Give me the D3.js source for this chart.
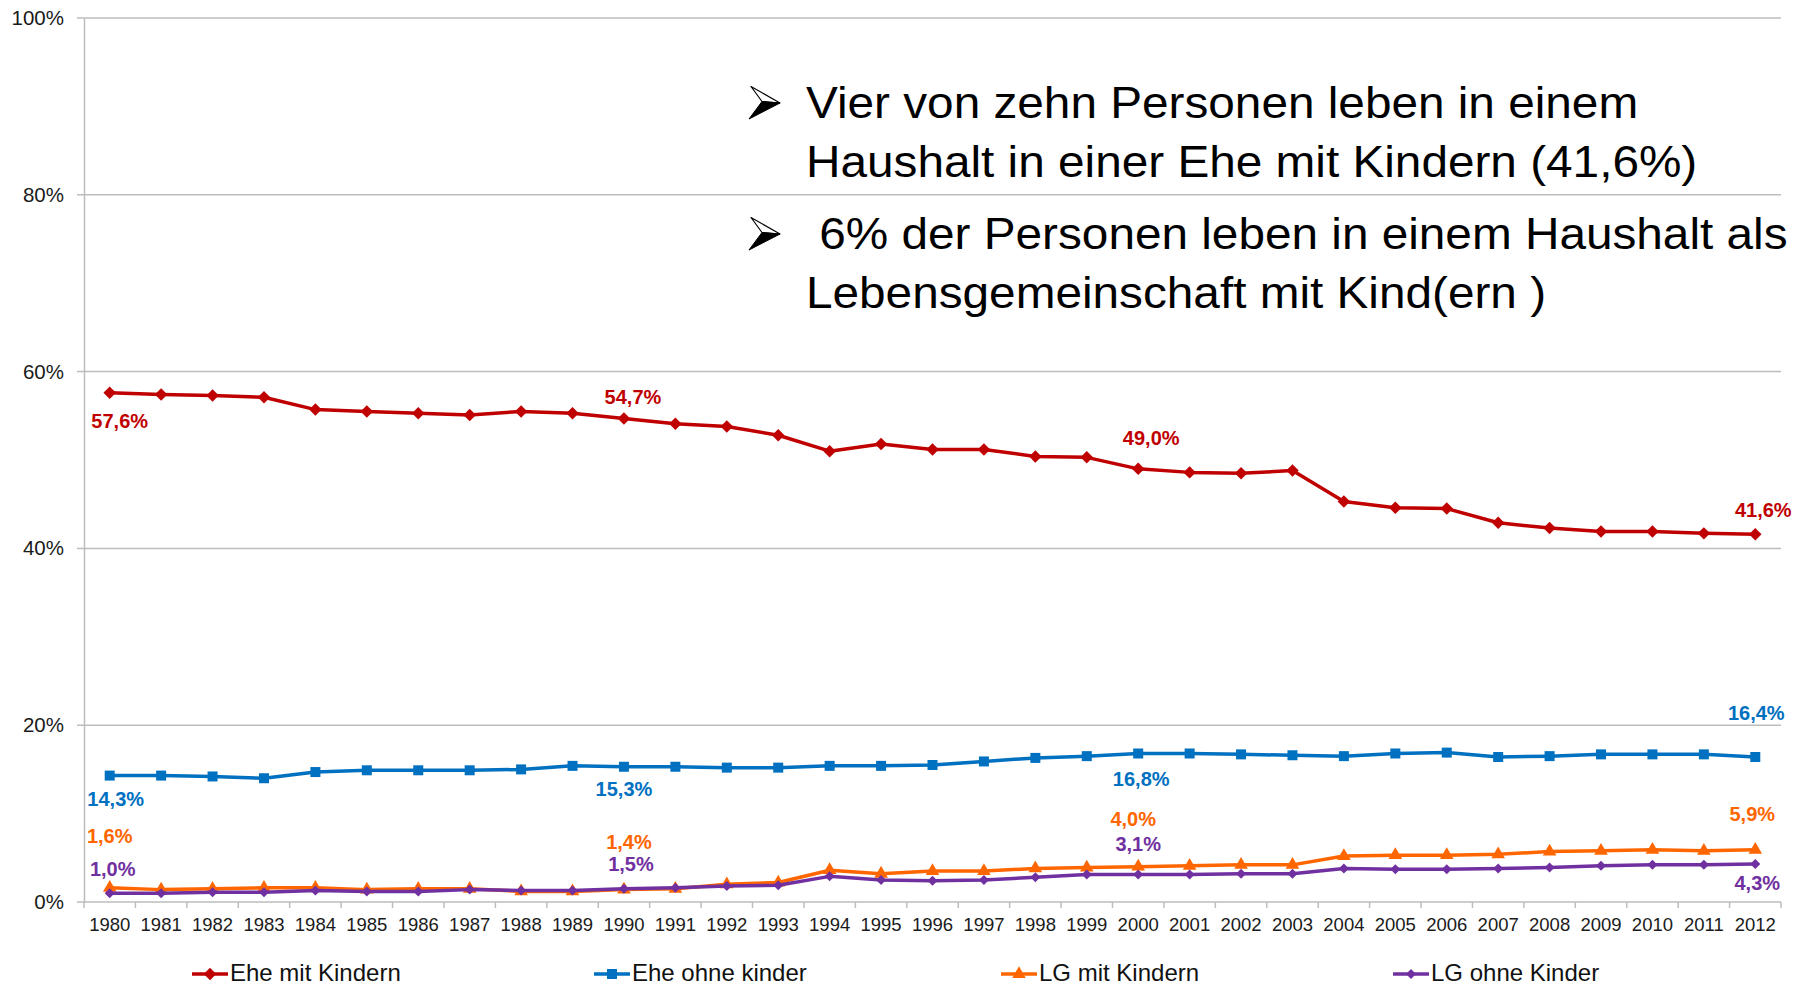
<!DOCTYPE html>
<meta charset="utf-8">
<script src="https://d3js.org/d3.v7.min.js"></script>
<style>
    body {
        margin: 0;
        background: #fff;
    }

    svg text {
        font-family: "Liberation Sans", Arial, sans-serif;
    }
</style>

<div id="chart"></div>

<script>
    // years on the x axis
    var years = ["1980", "1981", "1982", "1983", "1984", "1985", "1986", "1987", "1988", "1989", "1990",
        "1991", "1992", "1993", "1994", "1995", "1996", "1997", "1998", "1999", "2000",
        "2001", "2002", "2003", "2004", "2005", "2006", "2007", "2008", "2009", "2010", "2011", "2012"];

    // share of persons (%)
    var eheMitKindern = [57.6, 57.4, 57.3, 57.1, 55.7, 55.5, 55.3, 55.1, 55.5, 55.3, 54.7,
        54.1, 53.8, 52.8, 51.0, 51.8, 51.2, 51.2, 50.4, 50.3, 49.0,
        48.6, 48.5, 48.8, 45.3, 44.6, 44.5, 42.9, 42.3, 41.9, 41.9, 41.7, 41.6];
    var eheOhneKinder = [14.3, 14.3, 14.2, 14.0, 14.7, 14.9, 14.9, 14.9, 15.0, 15.4, 15.3,
        15.3, 15.2, 15.2, 15.4, 15.4, 15.5, 15.9, 16.3, 16.5, 16.8,
        16.8, 16.7, 16.6, 16.5, 16.8, 16.9, 16.4, 16.5, 16.7, 16.7, 16.7, 16.4];
    var lgMitKindern = [1.6, 1.4, 1.5, 1.6, 1.6, 1.4, 1.5, 1.5, 1.2, 1.2, 1.4,
        1.5, 2.0, 2.2, 3.6, 3.2, 3.5, 3.5, 3.8, 3.9, 4.0,
        4.1, 4.2, 4.2, 5.2, 5.3, 5.3, 5.4, 5.7, 5.8, 5.9, 5.8, 5.9];
    var lgOhneKinder = [1.0, 1.0, 1.1, 1.1, 1.3, 1.2, 1.2, 1.4, 1.3, 1.3, 1.5,
        1.6, 1.8, 1.9, 2.9, 2.5, 2.4, 2.5, 2.8, 3.1, 3.1,
        3.1, 3.2, 3.2, 3.8, 3.7, 3.7, 3.8, 3.9, 4.1, 4.2, 4.2, 4.3];

    var seriesNames = ["Ehe mit Kindern", "Ehe ohne kinder", "LG mit Kindern", "LG ohne Kinder"];
    var yTicks = [0, 20, 40, 60, 80, 100];

    var bullets = [
        ["Vier von zehn Personen leben in einem", "Haushalt in einer Ehe mit Kindern (41,6%)"],
        [" 6% der Personen leben in einem Haushalt als", "Lebensgemeinschaft mit Kind(ern )"]
    ];

    // which points carry a value label (series index, year, offset of label centre)
    var labels = [
        { s: 0, year: "1980", dx: 10, dy: 28 },
        { s: 0, year: "1990", dx: 9, dy: -21 },
        { s: 0, year: "2000", dx: 13, dy: -31 },
        { s: 0, year: "2012", dx: 8, dy: -24 },
        { s: 1, year: "1980", dx: 6, dy: 23 },
        { s: 1, year: "1990", dx: 0, dy: 22 },
        { s: 1, year: "2000", dx: 3, dy: 26 },
        { s: 1, year: "2012", dx: 1, dy: -44 },
        { s: 2, year: "1980", dx: 0, dy: -52 },
        { s: 2, year: "1990", dx: 5, dy: -48 },
        { s: 2, year: "2000", dx: -5, dy: -48 },
        { s: 2, year: "2012", dx: -3, dy: -36 },
        { s: 3, year: "1980", dx: 3, dy: -24 },
        { s: 3, year: "1990", dx: 7, dy: -25 },
        { s: 3, year: "2000", dx: 0, dy: -31 },
        { s: 3, year: "2012", dx: 2, dy: 19 }
    ];

    var width = 1798;
    var height = 985;
    var margin = { left: 84, right: 1781, top: 18, bottom: 902 };

    var colors = ["#c00000", "#0070c0", "#ff6600", "#7030a0"];

    var series = [eheMitKindern, eheOhneKinder, lgMitKindern, lgOhneKinder].map((vals, i) => ({
        name: seriesNames[i],
        color: colors[i],
        values: vals.map((v, j) => ({ year: years[j], value: v }))
    }));

    var x = d3.scaleBand().domain(years).range([margin.left, margin.right]);
    var y = d3.scaleLinear().domain([0, 100]).range([margin.bottom, margin.top]);
    var cx = d => x(d) + x.bandwidth() / 2;

    var svg = d3.select('#chart')
        .append('svg')
        .attr('width', width)
        .attr('height', height);

    // gridlines
    svg.append('g')
        .selectAll('line')
        .data(yTicks)
        .join('line')
        .attr('x1', margin.left - 7)
        .attr('x2', margin.right)
        .attr('y1', d => y(d))
        .attr('y2', d => y(d))
        .attr('stroke', '#bdbdbd')
        .attr('stroke-width', 1.5);

    // y axis
    svg.append('g')
        .attr('transform', `translate(${margin.left},0)`)
        .call(d3.axisLeft(y).tickValues(yTicks).tickSize(0).tickPadding(20).tickFormat(d => d + '%'))
        .call(g => g.select('.domain').attr('stroke', '#bdbdbd').attr('stroke-width', 1.5))
        .call(g => g.selectAll('text')
            .attr('fill', '#1a1a1a')
            .style('font-size', '20.5px'));

    // x axis
    svg.append('g')
        .attr('transform', `translate(0,${margin.bottom})`)
        .call(d3.axisBottom(x).tickSize(0).tickPadding(16))
        .call(g => g.select('.domain').remove())
        .call(g => g.selectAll('text')
            .attr('fill', '#1a1a1a')
            .style('font-size', '18.5px'));

    svg.append('g')
        .selectAll('line')
        .data(years.map(d => x(d)).concat([margin.right]))
        .join('line')
        .attr('x1', d => d)
        .attr('x2', d => d)
        .attr('y1', margin.bottom)
        .attr('y2', margin.bottom + 6)
        .attr('stroke', '#bdbdbd')
        .attr('stroke-width', 1.5);

    // symbols
    function marker(i) {
        if (i === 0) return d3.symbol(d3.symbolSquare, 78)();
        if (i === 1) return d3.symbol(d3.symbolSquare, 100)();
        if (i === 2) return d3.symbol(d3.symbolTriangle, 80)();
        return d3.symbol(d3.symbolSquare, 50)();
    }
    var rot = i => (i === 0 || i === 3) ? ' rotate(45)' : '';

    var line = d3.line()
        .x(d => cx(d.year))
        .y(d => y(d.value));

    series.forEach((s, i) => {
        svg.append('path')
            .datum(s.values)
            .attr('d', line)
            .attr('fill', 'none')
            .attr('stroke', s.color)
            .attr('stroke-width', 3.5)
            .attr('stroke-linejoin', 'round');

        svg.append('g')
            .selectAll('path')
            .data(s.values)
            .join('path')
            .attr('d', marker(i))
            .attr('transform', d => `translate(${cx(d.year)},${y(d.value)})` + rot(i))
            .attr('fill', s.color);
    });

    // value labels
    var fmt = v => d3.format('.1f')(v).replace('.', ',') + '%';
    svg.append('g')
        .selectAll('text')
        .data(labels)
        .join('text')
        .attr('x', d => cx(d.year) + d.dx)
        .attr('y', d => y(series[d.s].values[years.indexOf(d.year)].value) + d.dy)
        .attr('dy', '0.35em')
        .attr('text-anchor', 'middle')
        .attr('fill', d => colors[d.s])
        .style('font-size', '20px')
        .style('font-weight', 'bold')
        .text(d => fmt(series[d.s].values[years.indexOf(d.year)].value));

    // legend
    var legendX = [192, 594, 1001, 1393];
    var legend = svg.append('g')
        .selectAll('g')
        .data(series)
        .join('g')
        .attr('transform', (d, i) => `translate(${legendX[i]},974)`);
    legend.append('line')
        .attr('x1', 0)
        .attr('x2', 36)
        .attr('stroke', d => d.color)
        .attr('stroke-width', 3.5);
    legend.append('path')
        .attr('d', (d, i) => marker(i))
        .attr('transform', (d, i) => 'translate(18,0)' + rot(i))
        .attr('fill', d => d.color);
    legend.append('text')
        .attr('x', 38)
        .attr('y', 7)
        .attr('fill', '#111')
        .style('font-size', '24px')
        .text(d => d.name);

    // annotation bullets
    var baselines = [[118, 177], [249, 308]];
    var note = svg.append('g');
    bullets.forEach((lines, b) => {
        var ay = baselines[b][0] - 15;
        var arrow = note.append('g').attr('transform', `translate(765,${ay})`);
        arrow.append('path')
            .attr('d', 'M-14,-16.5 L15,0 L-3,-1.5 Z')
            .attr('fill', '#fff')
            .attr('stroke', '#000')
            .attr('stroke-width', 1.2)
            .attr('stroke-linejoin', 'round');
        arrow.append('path')
            .attr('d', 'M-3,-1.5 L15,0 L-16,16 Z')
            .attr('fill', '#000')
            .attr('stroke', '#000')
            .attr('stroke-width', 1)
            .attr('stroke-linejoin', 'round');

        lines.forEach((t, k) => {
            note.append('text')
                .attr('transform', `translate(806,${baselines[b][k]}) scale(1.085,1)`)
                .attr('fill', '#000')
                .style('font-size', '44px')
                .style('white-space', 'pre')
                .text(t);
        });
    });
</script>
